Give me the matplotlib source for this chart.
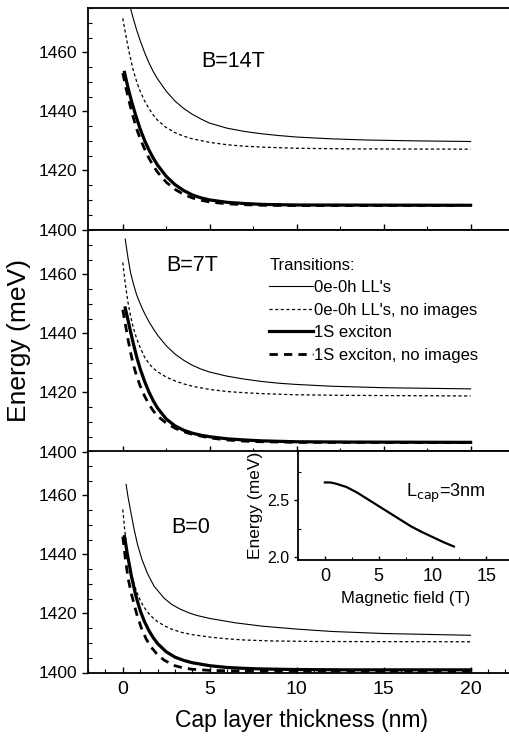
import matplotlib
matplotlib.use("Agg")
import matplotlib.pyplot as plt
from matplotlib.ticker import MultipleLocator

plt.rcParams['font.family'] = ['Liberation Sans', 'DejaVu Sans']

# ---- data (x = cap thickness in nm, y = energy in meV) ----
# B = 14 T
b14_ll_x = [0.44, 0.6, 0.8, 1.0, 1.25, 1.5, 1.75, 2.0, 2.5, 3.0, 3.5, 4.0, 4.5, 5, 6, 7, 8, 9, 10, 12, 14, 17, 20]
b14_ll_y = [1475, 1471.5, 1467.5, 1464, 1460, 1456.5, 1453.5, 1451, 1446.8, 1443.5, 1441, 1439, 1437.4, 1436, 1434.3, 1433.2, 1432.4, 1431.8, 1431.3, 1430.7, 1430.3, 1430, 1429.8]
b14_llni_x = [0, 0.2, 0.4, 0.6, 0.8, 1.0, 1.25, 1.5, 1.75, 2.0, 2.5, 3, 3.5, 4, 5, 6, 7, 8, 10, 13, 20]
b14_llni_y = [1471.5, 1465, 1459, 1454, 1450, 1446.8, 1443.6, 1441, 1438.8, 1437, 1434.5, 1432.8, 1431.6, 1430.7, 1429.5, 1428.7, 1428.2, 1427.9, 1427.5, 1427.3, 1427.2]
b14_ex_x = [0.1, 0.3, 0.5, 0.75, 1.0, 1.25, 1.5, 1.75, 2.0, 2.5, 3.0, 3.5, 4, 4.5, 5, 6, 7, 8, 10, 20]
b14_ex_y = [1453.2, 1448, 1443.5, 1438.5, 1434, 1430.2, 1427, 1424.2, 1421.8, 1418, 1415.2, 1413.2, 1411.7, 1410.7, 1410, 1409.2, 1408.8, 1408.5, 1408.3, 1408.2]
b14_exni_x = [0.0, 0.2, 0.4, 0.6, 0.8, 1.0, 1.25, 1.5, 1.75, 2.0, 2.5, 3, 3.5, 4, 4.5, 5, 6, 7, 8, 10, 19.5]
b14_exni_y = [1453, 1447.5, 1442.5, 1438, 1434, 1430.8, 1427.3, 1424.2, 1421.6, 1419.4, 1416, 1413.6, 1411.9, 1410.7, 1409.9, 1409.3, 1408.7, 1408.4, 1408.2, 1408.1, 1408.1]

# B = 7 T
b7_ll_x = [0.14, 0.3, 0.45, 0.6, 0.8, 1.0, 1.25, 1.5, 1.75, 2.0, 2.5, 3, 3.5, 4, 4.5, 5, 6, 7, 8, 9, 10, 12, 15, 20]
b7_ll_y = [1471.9, 1465.5, 1460.5, 1457, 1453, 1450, 1446.8, 1444, 1441.6, 1439.4, 1435.8, 1433, 1430.9, 1429.2, 1427.9, 1426.9, 1425.5, 1424.5, 1423.7, 1423.1, 1422.7, 1422.1, 1421.6, 1421.2]
b7_llni_x = [0, 0.15, 0.3, 0.45, 0.6, 0.8, 1.0, 1.25, 1.5, 1.75, 2.0, 2.5, 3, 3.5, 4, 5, 6, 7, 8, 10, 13, 20]
b7_llni_y = [1464, 1456.5, 1450.5, 1445.8, 1442, 1438.2, 1435.2, 1432, 1429.8, 1428.2, 1427, 1425.2, 1423.9, 1422.9, 1422.1, 1421, 1420.3, 1419.9, 1419.6, 1419.2, 1419, 1418.8]
b7_ex_x = [0.14, 0.3, 0.45, 0.6, 0.8, 1.0, 1.25, 1.5, 1.75, 2.0, 2.5, 3, 3.5, 4, 4.5, 5, 6, 7, 8, 10, 13, 20]
b7_ex_y = [1448.6, 1444.5, 1440.5, 1436.7, 1432, 1428, 1423.8, 1420.2, 1417.2, 1414.7, 1411, 1408.7, 1407.2, 1406.2, 1405.5, 1405, 1404.3, 1403.9, 1403.6, 1403.3, 1403.2, 1403.1]
b7_exni_x = [0, 0.15, 0.3, 0.45, 0.6, 0.8, 1.0, 1.25, 1.5, 1.75, 2.0, 2.5, 3, 3.5, 4, 5, 6, 7, 8, 10, 20]
b7_exni_y = [1448, 1443, 1438, 1433.5, 1429.5, 1425.5, 1422.2, 1418.8, 1416, 1413.8, 1412, 1409.6, 1407.9, 1406.7, 1405.8, 1404.6, 1403.9, 1403.5, 1403.3, 1403.1, 1403]

# B = 0
b0_ll_x = [0.19, 0.3, 0.48, 0.65, 0.85, 1.1, 1.42, 1.8, 2.37, 2.8, 3.32, 3.8, 4.27, 5, 5.6, 6.5, 8, 9, 10, 12, 15, 20]
b0_ll_y = [1463.7, 1459.5, 1453.8, 1448.5, 1443.3, 1438.3, 1433.5, 1429.2, 1425.2, 1423.1, 1421.4, 1420.2, 1419.3, 1418.3, 1417.7, 1416.8, 1415.7, 1415.2, 1414.7, 1413.9, 1413.2, 1412.6]
b0_llni_x = [0, 0.1, 0.2, 0.35, 0.5, 0.7, 0.9, 1.15, 1.4, 1.7, 2.0, 2.4, 2.8, 3.3, 4, 5, 6, 7, 8.5, 11, 20]
b0_llni_y = [1455.2, 1449, 1443.5, 1437.5, 1433.3, 1429, 1425.8, 1422.8, 1420.6, 1418.7, 1417.2, 1415.8, 1414.7, 1413.7, 1412.8, 1412, 1411.4, 1411, 1410.7, 1410.5, 1410.4]
b0_ex_x = [0.1, 0.25, 0.5, 0.75, 1.0, 1.25, 1.5, 1.75, 2.0, 2.5, 3, 3.5, 4, 5, 6, 7, 8, 10, 13, 20]
b0_ex_y = [1446, 1440.5, 1432.5, 1426, 1421, 1417.2, 1414.2, 1411.8, 1409.8, 1407, 1405.2, 1404.1, 1403.3, 1402.3, 1401.7, 1401.4, 1401.2, 1401, 1400.9, 1400.9]
b0_exni_x = [0, 0.15, 0.3, 0.5, 0.8, 1.1, 1.35, 1.6, 2.0, 2.4, 3, 3.5, 4, 5, 7, 20]
b0_exni_y = [1446, 1438.5, 1432, 1426.5, 1419.8, 1414.5, 1411.3, 1408.8, 1406, 1404.1, 1402.3, 1401.5, 1401.1, 1400.7, 1400.5, 1400.4]

# inset: energy vs magnetic field, L_cap = 3 nm
inset_b = [0, 0.5, 1, 2, 3, 4, 5, 6, 7, 8, 9, 10, 11, 12]
inset_e = [2.66, 2.66, 2.65, 2.62, 2.57, 2.51, 2.45, 2.39, 2.33, 2.27, 2.22, 2.175, 2.13, 2.09]

panels = [
    ("B=14T", (4.5, 1457), b14_ll_x, b14_ll_y, b14_llni_x, b14_llni_y, b14_ex_x, b14_ex_y, b14_exni_x, b14_exni_y),
    ("B=7T", (2.5, 1463), b7_ll_x, b7_ll_y, b7_llni_x, b7_llni_y, b7_ex_x, b7_ex_y, b7_exni_x, b7_exni_y),
    ("B=0", (2.8, 1449), b0_ll_x, b0_ll_y, b0_llni_x, b0_llni_y, b0_ex_x, b0_ex_y, b0_exni_x, b0_exni_y),
]

W, H = 509, 736
fig = plt.figure(figsize=(W / 100, H / 100), dpi=100)

left = 88 / W
tops = [8, 230, 451]
ph = 221.5

for i, p in enumerate(panels):
    name, tpos, lx, ly, nx, ny, ex, ey, fx, fy = p
    ax = fig.add_axes([left, 1 - (tops[i] + ph) / H, 1 - left + 0.01, ph / H])
    l1, = ax.plot(lx, ly, color='k', lw=0.8, label="0e-0h LL's")
    l2, = ax.plot(nx, ny, color='k', lw=0.9, ls=(0, (2.5, 2)), label="0e-0h LL's, no images")
    l3, = ax.plot(ex, ey, color='k', lw=2.3, label='1S exciton')
    l4, = ax.plot(fx, fy, color='k', lw=2.0, ls=(0, (3, 2.2)), label='1S exciton, no images')
    ax.text(tpos[0], tpos[1], name, fontsize=15.5, va='center', ha='left')

    ax.set_xlim(-2, 22.5)
    ax.set_ylim(1400, 1475)
    ax.yaxis.set_major_locator(MultipleLocator(20))
    ax.yaxis.set_minor_locator(MultipleLocator(5))
    ax.xaxis.set_major_locator(MultipleLocator(5))
    ax.xaxis.set_minor_locator(MultipleLocator(1 if i == 2 else 2.5))
    ax.tick_params(axis='y', which='major', direction='out', length=4, width=1, labelsize=12.5)
    ax.tick_params(axis='y', which='minor', direction='in', length=3, width=0.8)
    ax.tick_params(axis='x', which='major', direction='in', length=4, width=1, labelsize=14, pad=6)
    ax.tick_params(axis='x', which='minor', direction='in', length=3, width=0.8)
    ax.spines['right'].set_visible(False)
    for s in ['left', 'top', 'bottom']:
        ax.spines[s].set_linewidth(1.3)
    if i < 2:
        ax.tick_params(axis='x', labelbottom=False)
    if i == 1:
        ax.set_ylabel('Energy (meV)', fontsize=19, labelpad=6)
        leg = ax.legend(handles=[l1, l2, l3, l4], title='Transitions:', loc='upper left',
                        bbox_to_anchor=(0.41, 0.905), frameon=False, fontsize=12,
                        title_fontsize=12, handlelength=2.6, handletextpad=0.1,
                        labelspacing=0.45, borderaxespad=0)
        leg._legend_box.align = 'left'
    if i == 2:
        ax.set_xlabel('Cap layer thickness (nm)', fontsize=16.5, labelpad=8)

# inset
ins = fig.add_axes([298 / W, 1 - 560 / H, 1 - 298 / W + 0.01, 109 / H])
ins.plot(inset_b, inset_e, color='k', lw=1.6)
ins.set_xlim(-2.5, 17.6)
ins.set_ylim(1.97, 2.94)
ins.xaxis.set_major_locator(MultipleLocator(5))
ins.xaxis.set_minor_locator(MultipleLocator(2.5))
ins.yaxis.set_major_locator(MultipleLocator(0.5))
ins.yaxis.set_minor_locator(MultipleLocator(0.25))
ins.tick_params(axis='y', which='major', direction='out', length=3, width=1, labelsize=11.5)
ins.tick_params(axis='y', which='minor', direction='in', length=2.5, width=0.8)
ins.tick_params(axis='x', which='major', direction='in', length=3, width=1, labelsize=13, pad=6)
ins.tick_params(axis='x', which='minor', direction='in', length=2.5, width=0.8)
ins.spines['right'].set_visible(False)
for s in ['left', 'top', 'bottom']:
    ins.spines[s].set_linewidth(1.3)
ins.set_xlabel('Magnetic field (T)', fontsize=12, labelpad=4)
ins.set_ylabel('Energy (meV)', fontsize=12.5, labelpad=3)
ins.text(0.5, 0.58, r'L$_{\mathrm{cap}}$=3nm', transform=ins.transAxes, fontsize=13)

fig.savefig('out.png', dpi=100)
